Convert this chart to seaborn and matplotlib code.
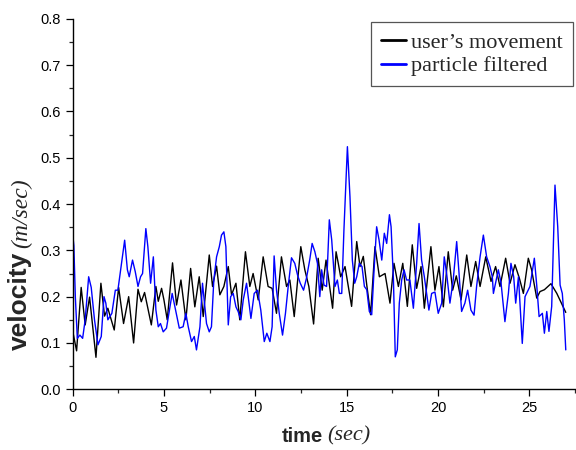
"""Velocity over time: user's movement vs. particle filtered estimate."""

import matplotlib

matplotlib.use("Agg")
import matplotlib.pyplot as plt
import pandas as pd
import seaborn as sns
from matplotlib.ticker import FormatStrFormatter, MultipleLocator

# user's movement (black)
user_time = [
    0, 0.22, 0.47, 0.69, 0.93, 1.28, 1.55, 1.75, 1.93, 2.28,
    2.52, 2.79, 3.07, 3.34, 3.58, 3.76, 3.94, 4.31, 4.56, 4.69,
    4.87, 5.0, 5.18, 5.47, 5.69, 5.93, 6.2, 6.46, 6.69, 6.93,
    7.15, 7.48, 7.66, 7.88, 8.06, 8.28, 8.52, 8.7, 8.94, 9.15,
    9.46, 9.7, 9.88, 10.16, 10.43, 10.7, 10.92, 11.16, 11.43, 11.71,
    11.89, 12.13, 12.49, 12.71, 12.93, 13.19, 13.44, 13.66, 13.87, 14.23,
    14.42, 14.54, 14.67, 14.91, 15.27, 15.55, 15.73, 15.91, 16.1, 16.31,
    16.55, 16.79, 17.1, 17.37, 17.59, 17.83, 18.07, 18.32, 18.59, 18.83,
    19.07, 19.25, 19.61, 19.83, 20.05, 20.29, 20.56, 20.8, 21.0, 21.26,
    21.57, 21.8, 22.06, 22.3, 22.61, 22.9, 23.15, 23.39, 23.7, 23.94,
    24.21, 24.45, 24.67, 24.94, 25.12, 25.4, 25.58, 25.82, 26.18, 26.5,
    26.99,
]
user_velocity = [
    0.127, 0.083, 0.22, 0.139, 0.199, 0.069, 0.229, 0.158, 0.175, 0.128,
    0.22, 0.142, 0.2, 0.1, 0.216, 0.189, 0.209, 0.139, 0.222, 0.19,
    0.218, 0.193, 0.15, 0.273, 0.182, 0.236, 0.15, 0.261, 0.178, 0.243,
    0.157, 0.29, 0.222, 0.266, 0.204, 0.222, 0.265, 0.204, 0.229, 0.15,
    0.297, 0.222, 0.25, 0.193, 0.286, 0.222, 0.218, 0.164, 0.286, 0.222,
    0.236, 0.157, 0.308, 0.258, 0.222, 0.141, 0.283, 0.214, 0.279, 0.175,
    0.297, 0.272, 0.243, 0.265, 0.179, 0.319, 0.265, 0.287, 0.225, 0.161,
    0.308, 0.243, 0.25, 0.186, 0.272, 0.222, 0.272, 0.179, 0.312, 0.218,
    0.265, 0.175, 0.308, 0.214, 0.265, 0.178, 0.297, 0.214, 0.245, 0.193,
    0.29, 0.222, 0.276, 0.222, 0.286, 0.233, 0.265, 0.222, 0.283, 0.229,
    0.269, 0.24, 0.207, 0.283, 0.258, 0.197, 0.211, 0.215, 0.228, 0.207,
    0.166,
]

# particle filtered estimate (blue)
filtered_time = [
    0, 0.07, 0.15, 0.26, 0.4, 0.55, 0.69, 0.88, 1.02, 1.2,
    1.39, 1.57, 1.72, 1.82, 1.93, 2.04, 2.15, 2.34, 2.48, 2.85,
    3.0, 3.1, 3.28, 3.43, 3.58, 3.72, 3.83, 4.01, 4.12, 4.27,
    4.42, 4.56, 4.69, 4.81, 4.96, 5.14, 5.29, 5.45, 5.6, 5.84,
    6.05, 6.2, 6.33, 6.51, 6.66, 6.78, 6.97, 7.11, 7.33, 7.48,
    7.6, 7.73, 7.88, 8.03, 8.15, 8.28, 8.39, 8.52, 8.65, 8.79,
    8.94, 9.06, 9.21, 9.34, 9.52, 9.76, 9.94, 10.12, 10.3, 10.49,
    10.63, 10.8, 10.92, 11.03, 11.16, 11.31, 11.49, 11.65, 11.8, 11.98,
    12.16, 12.31, 12.46, 12.64, 12.8, 12.98, 13.11, 13.26, 13.4, 13.53,
    13.63, 13.76, 13.9, 14.05, 14.18, 14.36, 14.49, 14.6, 14.73, 14.85,
    15.04, 15.18, 15.31, 15.44, 15.55, 15.69, 15.84, 15.97, 16.1, 16.24,
    16.37, 16.5, 16.64, 16.77, 16.92, 17.06, 17.19, 17.34, 17.43, 17.56,
    17.66, 17.77, 17.88, 18.01, 18.14, 18.28, 18.46, 18.65, 18.83, 18.96,
    19.1, 19.25, 19.5, 19.65, 19.83, 20.01, 20.2, 20.34, 20.47, 20.65,
    20.83, 21.02, 21.15, 21.29, 21.47, 21.62, 21.8, 21.97, 22.11, 22.3,
    22.48, 22.66, 22.84, 22.97, 23.03, 23.3, 23.45, 23.66, 23.85, 23.99,
    24.14, 24.25, 24.4, 24.61, 24.76, 25.03, 25.27, 25.4, 25.53, 25.71,
    25.82, 25.95, 26.07, 26.22, 26.4, 26.55, 26.68, 26.8, 26.91, 26.99,
]
filtered_velocity = [
    0.338, 0.31, 0.2, 0.11, 0.117, 0.11, 0.15, 0.243, 0.22, 0.15,
    0.096, 0.114, 0.2, 0.186, 0.15, 0.157, 0.164, 0.214, 0.214, 0.322,
    0.258, 0.243, 0.279, 0.254, 0.222, 0.243, 0.25, 0.347, 0.308, 0.229,
    0.286, 0.171, 0.135, 0.142, 0.124, 0.132, 0.168, 0.207, 0.178, 0.132,
    0.135, 0.164, 0.135, 0.103, 0.114, 0.085, 0.135, 0.229, 0.142, 0.124,
    0.135, 0.236, 0.286, 0.308, 0.333, 0.34, 0.308, 0.139, 0.2, 0.207,
    0.178, 0.168, 0.15, 0.193, 0.229, 0.153, 0.207, 0.214, 0.171, 0.103,
    0.121, 0.103, 0.135, 0.288, 0.214, 0.164, 0.117, 0.164, 0.222, 0.284,
    0.272, 0.247, 0.229, 0.214, 0.24, 0.28, 0.315, 0.297, 0.272, 0.2,
    0.258, 0.225, 0.222, 0.366, 0.323, 0.222, 0.236, 0.207, 0.207, 0.344,
    0.524, 0.416, 0.279, 0.229, 0.243, 0.272, 0.265, 0.222, 0.215, 0.168,
    0.161, 0.258, 0.351, 0.323, 0.279, 0.337, 0.315, 0.377, 0.351, 0.236,
    0.07, 0.085, 0.186, 0.236, 0.258, 0.236, 0.236, 0.175, 0.272, 0.358,
    0.279, 0.243, 0.171, 0.207, 0.21, 0.164, 0.186, 0.286, 0.25, 0.186,
    0.236, 0.319, 0.25, 0.168, 0.186, 0.214, 0.171, 0.16, 0.222, 0.286,
    0.333, 0.286, 0.265, 0.243, 0.207, 0.258, 0.229, 0.146, 0.207, 0.272,
    0.243, 0.186, 0.243, 0.099, 0.2, 0.222, 0.283, 0.225, 0.157, 0.164,
    0.121, 0.168, 0.125, 0.179, 0.441, 0.351, 0.225, 0.207, 0.15, 0.085,
]

series_labels = ["user\u2019s movement", "particle filtered"]
series_colors = ["black", "blue"]

sns.set_style("ticks")
plt.rcParams["font.family"] = ["Liberation Sans", "DejaVu Sans"]

user_df = pd.DataFrame({"time": user_time, "velocity": user_velocity})
filtered_df = pd.DataFrame({"time": filtered_time, "velocity": filtered_velocity})

fig = plt.figure(figsize=(5.76, 4.5), dpi=100)
ax = fig.add_axes([0.126, 0.135, 0.874, 0.823])

sns.lineplot(data=user_df, x="time", y="velocity", ax=ax, color=series_colors[0],
             linewidth=1.0, label=series_labels[0])
sns.lineplot(data=filtered_df, x="time", y="velocity", ax=ax, color=series_colors[1],
             linewidth=1.0, label=series_labels[1])

ax.set_xlim(0, 27.55)
ax.set_ylim(0, 0.8)
ax.xaxis.set_major_locator(MultipleLocator(5))
ax.xaxis.set_minor_locator(MultipleLocator(2.5))
ax.yaxis.set_major_locator(MultipleLocator(0.1))
ax.yaxis.set_minor_locator(MultipleLocator(0.05))
ax.yaxis.set_major_formatter(FormatStrFormatter("%.1f"))
ax.tick_params(which="major", direction="out", length=5, width=0.9, labelsize=10.5,
               colors="black")
ax.tick_params(which="minor", direction="out", length=3, width=0.9)
for side in ["top", "right"]:
    ax.spines[side].set_visible(False)
for side in ["left", "bottom"]:
    ax.spines[side].set_color("black")
    ax.spines[side].set_linewidth(1.0)
ax.set_xlabel("")
ax.set_ylabel("")

# axis titles: bold word plus italic serif unit
fig.text(323 / 576, 1 - 436 / 450, "time", ha="right", va="center",
         fontsize=14.5, fontweight="bold")
fig.text(327 / 576, 1 - 436 / 450, "(sec)", ha="left", va="center",
         fontsize=16, fontstyle="italic", family=["Liberation Serif"])
fig.text(20 / 576, 1 - 350 / 450, "velocity", ha="center", va="bottom",
         rotation=90, fontsize=19, fontweight="bold")
fig.text(22 / 576, 1 - 248 / 450, "(m/sec)", ha="center", va="bottom",
         rotation=90, fontsize=17, fontstyle="italic", family=["Liberation Serif"])

leg = ax.legend(loc="upper right", bbox_to_anchor=(573 / 576, 1 - 22 / 450),
                bbox_transform=fig.transFigure, borderaxespad=0, fancybox=False,
                framealpha=1, edgecolor="#555555", handlelength=1.1,
                handletextpad=0.25, labelspacing=0.15, borderpad=0.45,
                prop={"family": "Liberation Serif", "size": 16})
leg.get_frame().set_linewidth(0.9)
for line in leg.get_lines():
    line.set_linewidth(2.0)

fig.savefig("out.png", dpi=100)
